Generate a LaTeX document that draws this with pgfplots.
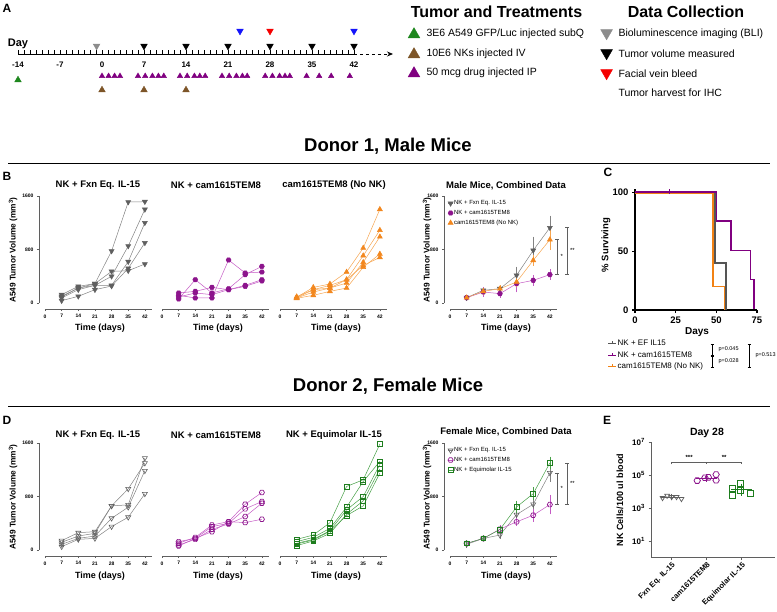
\documentclass[border=0pt]{standalone}
\usepackage{fontspec}
\setmainfont{Liberation Sans}
\usepackage{pgfplots}
\pgfplotsset{compat=1.18}
\usetikzlibrary{arrows.meta}

\definecolor{gL}{RGB}{130,130,130}
\definecolor{gM}{RGB}{95,95,95}
\definecolor{pL}{RGB}{196,90,196}
\definecolor{pM}{RGB}{140,20,140}
\definecolor{oL}{RGB}{246,165,80}
\definecolor{oM}{RGB}{242,135,30}
\definecolor{grL}{RGB}{70,160,70}
\definecolor{grM}{RGB}{30,125,30}
\definecolor{cG}{RGB}{85,85,85}
\definecolor{cP}{RGB}{128,0,128}
\definecolor{cO}{RGB}{242,130,20}
\definecolor{aGreen}{RGB}{30,135,30}
\definecolor{aBrown}{RGB}{125,85,40}
\definecolor{aPurple}{RGB}{128,0,128}
\definecolor{aGray}{RGB}{140,140,140}
\definecolor{aRed}{RGB}{245,0,0}
\definecolor{aBlue}{RGB}{20,20,250}

\newcommand{\fs}[1]{\fontsize{#1}{#1}\selectfont}

\pgfdeclareplotmark{hexagon}{%
  \pgfpathmoveto{\pgfpointpolar{0}{\pgfplotmarksize}}%
  \pgfpathlineto{\pgfpointpolar{60}{\pgfplotmarksize}}%
  \pgfpathlineto{\pgfpointpolar{120}{\pgfplotmarksize}}%
  \pgfpathlineto{\pgfpointpolar{180}{\pgfplotmarksize}}%
  \pgfpathlineto{\pgfpointpolar{240}{\pgfplotmarksize}}%
  \pgfpathlineto{\pgfpointpolar{300}{\pgfplotmarksize}}%
  \pgfpathclose\pgfusepathqstroke}
\pgfdeclareplotmark{hexagon*}{%
  \pgfpathmoveto{\pgfpointpolar{0}{\pgfplotmarksize}}%
  \pgfpathlineto{\pgfpointpolar{60}{\pgfplotmarksize}}%
  \pgfpathlineto{\pgfpointpolar{120}{\pgfplotmarksize}}%
  \pgfpathlineto{\pgfpointpolar{180}{\pgfplotmarksize}}%
  \pgfpathlineto{\pgfpointpolar{240}{\pgfplotmarksize}}%
  \pgfpathlineto{\pgfpointpolar{300}{\pgfplotmarksize}}%
  \pgfpathclose\pgfusepathqfillstroke}

\pgfplotsset{
  tv/.style={scale only axis, width=107pt, height=107pt, xmin=0, xmax=45, ymin=0, ymax=1600,
    xtick={0,7,14,21,28,35,42}, ytick={0,800,1600},
    axis x line=bottom, axis y line=left, axis line style={-, draw=gM, line width=0.6pt},
    axis x line shift=6pt, axis y line shift=6pt,
    tick align=outside, major tick length=2pt, tick style={draw=gM, line width=0.5pt},
    tick label style={font=\bfseries\fs{5}},
    /pgf/number format/assume math mode=true, /pgf/number format/1000 sep={},
    clip=false, anchor=south west},
  noy/.style={axis y line=none, ytick=\empty},
  gS/.style={gL, line width=0.5pt, mark=triangle*, mark size=2.9pt, mark options={rotate=180, fill=gM, draw=gM, solid}},
  gO/.style={gL, line width=0.5pt, mark=triangle, mark size=2.9pt, mark options={rotate=180, draw=gM, line width=0.6pt, solid}},
  pS/.style={pL, line width=0.5pt, mark=hexagon*, mark size=2.5pt, mark options={fill=pM, draw=pM, solid}},
  pO/.style={pL, line width=0.5pt, mark=hexagon, mark size=2.6pt, mark options={draw=pM, line width=0.7pt, solid}},
  oS/.style={oL, line width=0.5pt, mark=triangle*, mark size=2.9pt, mark options={fill=oM, draw=oM, solid}},
  grO/.style={grL, line width=0.5pt, mark=square, mark size=2.4pt, mark options={draw=grM, line width=0.7pt, solid}},
  eb/.style={error bars/.cd, y dir=both, y explicit, error bar style={#1, line width=0.5pt}, error mark options={#1, mark size=2pt, line width=0.5pt}},
  cl/.style={legend style={at={(-0.05,0.985)}, anchor=north west, draw=none, fill=none, font=\fs{6}, row sep=2.4pt, nodes={inner sep=0.8pt}},
    legend cell align=left,
    legend image code/.code={\draw[mark repeat=2, mark phase=2, ##1] plot coordinates {(0pt,0pt) (2.5pt,0pt) (5pt,0pt)};}},
}

\begin{document}
\begin{tikzpicture}
\path[use as bounding box] (0,0) rectangle (777pt,-611pt);

% ---------------- Panel A ----------------
\node[font=\bfseries\fs{12}] at (7pt,-8pt) {A};
\node[font=\bfseries\fs{11}] at (18pt,-44pt) {Day};
\begin{axis}[at={(18pt,-54pt)}, anchor=south west, scale only axis, width=336pt, height=40pt,
  xmin=-14, xmax=42, ymin=0, ymax=40, axis x line=bottom, axis y line=none,
  axis line style={-, line width=0.8pt}, xtick={-14,-7,0,7,14,21,28,35,42}, minor x tick num=6,
  tick align=inside, major tick length=4pt, minor tick length=4pt, tick style={line width=0.6pt, black},
  xticklabel style={font=\bfseries\fs{8}, yshift=-4pt}, /pgf/number format/assume math mode=true, clip=false]
\addplot[only marks, mark=triangle*, mark size=3.8pt, aGreen] coordinates {(-14,-26)};
\addplot[only marks, mark=triangle*, mark size=3.8pt, aBrown] coordinates {(0,-36) (7,-36) (14,-36)};
\addplot[only marks, mark=triangle*, mark size=3.1pt, aPurple] coordinates {
 (0,-22) (1.1,-22) (2.1,-22) (3,-22)
 (6,-22) (7.2,-22) (8.4,-22) (9.4,-22) (10.3,-22)
 (13,-22) (14.2,-22) (15.4,-22) (16.3,-22) (17.2,-22)
 (20,-22) (21.2,-22) (22.4,-22) (23.4,-22) (24.2,-22)
 (27.2,-22) (28.4,-22) (29.6,-22) (30.5,-22) (31.3,-22)
 (34.1,-22) (36.2,-22) (38.2,-22) (41.3,-22)};
\addplot[only marks, mark=triangle*, mark size=3.9pt, mark options={rotate=180}, aGray] coordinates {(-0.9,8)};
\addplot[only marks, mark=triangle*, mark size=3.9pt, mark options={rotate=180}, black] coordinates {(7,8) (14,8) (21,8) (28,8) (35,8) (42,8)};
\addplot[only marks, mark=triangle*, mark size=3.9pt, mark options={rotate=180}, aBlue] coordinates {(23,23) (42,23)};
\addplot[only marks, mark=triangle*, mark size=3.9pt, mark options={rotate=180}, aRed] coordinates {(28,23)};
% legend markers
\addplot[only marks, mark=triangle*, mark size=6.8pt, aGreen] coordinates {(52,19.5)};
\addplot[only marks, mark=triangle*, mark size=6.8pt, aBrown] coordinates {(52,-0.5)};
\addplot[only marks, mark=triangle*, mark size=6.8pt, aPurple] coordinates {(52,-19.5)};
\addplot[only marks, mark=triangle*, mark size=6.8pt, mark options={rotate=180}, aGray] coordinates {(84.1,21)};
\addplot[only marks, mark=triangle*, mark size=6.8pt, mark options={rotate=180}, black] coordinates {(84.1,1)};
\addplot[only marks, mark=triangle*, mark size=6.8pt, mark options={rotate=180}, aRed] coordinates {(84.1,-19)};
\draw[dashed, line width=0.8pt, -{Stealth[length=6pt,width=5pt]}] (axis cs:42,0) -- (axis cs:48.5,0);
\end{axis}
\node[font=\bfseries\fs{16}] at (496.5pt,-11.7pt) {Tumor and Treatments};
\node[font=\bfseries\fs{16}] at (686pt,-11.7pt) {Data Collection};
\node[font=\fs{10.5}, anchor=west] at (423pt,-33.3pt) {3E6 A549 GFP/Luc injected subQ};
\node[font=\fs{10.5}, anchor=west] at (423pt,-53.3pt) {10E6 NKs injected IV};
\node[font=\fs{10.5}, anchor=west] at (423pt,-72.7pt) {50 mcg drug injected IP};
\node[font=\fs{10.5}, anchor=west] at (615pt,-33.3pt) {Bioluminescence imaging (BLI)};
\node[font=\fs{10.5}, anchor=west] at (615pt,-53.3pt) {Tumor volume measured};
\node[font=\fs{10.5}, anchor=west] at (615pt,-73.3pt) {Facial vein bleed};
\node[font=\fs{10.5}, anchor=west] at (615pt,-92.7pt) {Tumor harvest for IHC};

% ---------------- separators ----------------
\node[font=\bfseries\fs{18.5}] at (388pt,-146pt) {Donor 1, Male Mice};
\draw[line width=0.8pt] (8pt,-163pt) -- (770pt,-163pt);
\node[font=\bfseries\fs{18.5}] at (388pt,-386pt) {Donor 2, Female Mice};
\draw[line width=0.8pt] (8pt,-406pt) -- (770pt,-406pt);

% ---------------- Panel B ----------------
\node[font=\bfseries\fs{12}] at (7pt,-176pt) {B};
\node[font=\bfseries\fs{9.5}] at (98pt,-185pt) {NK + Fxn Eq. IL-15};
\node[font=\bfseries\fs{9.5}] at (216pt,-185pt) {NK + cam1615TEM8};
\node[font=\bfseries\fs{9.5}] at (334pt,-185pt) {cam1615TEM8 (No NK)};
\node[font=\bfseries\fs{9.5}] at (506pt,-186pt) {Male Mice, Combined Data};
\node[rotate=90, font=\bfseries\fs{8.3}] at (13pt,-250pt) {A549 Tumor Volume (mm\textsuperscript{3})};
\node[rotate=90, font=\bfseries\fs{8.3}] at (427pt,-250pt) {A549 Tumor Volume (mm\textsuperscript{3})};
\foreach \xx in {100,218,336,506} {\node[font=\bfseries\fs{9}] at (\xx pt,-328pt) {Time (days)};}

\begin{axis}[tv, at={(45pt,-303pt)}]
\addplot[gS] coordinates {(7,125) (14,249) (21,289) (28,777) (35,1510) (42,1515)};
\addplot[gS] coordinates {(7,100) (14,224) (21,264) (28,399) (35,852) (42,1400)};
\addplot[gS] coordinates {(7,75) (14,199) (21,264) (28,264) (35,618) (42,1200)};
\addplot[gS] coordinates {(7,35) (14,100) (21,199) (28,254) (35,518) (42,900)};
\addplot[gS] coordinates {(7,90) (14,224) (21,289) (28,473) (35,483) (42,583)};
\end{axis}
\begin{axis}[tv, noy, at={(162pt,-303pt)}]
\addplot[pS] coordinates {(7,60) (14,349) (21,150) (28,214) (35,424) (42,548)};
\addplot[pS] coordinates {(7,115) (14,75) (21,75) (28,643) (35,449) (42,463)};
\addplot[pS] coordinates {(7,150) (14,174) (21,234) (28,199) (35,264) (42,349)};
\addplot[pS] coordinates {(7,90) (14,150) (21,125) (28,199) (35,249) (42,330)};
\end{axis}
\begin{axis}[tv, noy, at={(280pt,-303pt)}]
\addplot[oS] coordinates {(7,85) (14,234) (21,284) (28,463) (35,822) (42,1401)};
\addplot[oS] coordinates {(7,95) (14,199) (21,264) (28,349) (35,708) (42,1089)};
\addplot[oS] coordinates {(7,75) (14,164) (21,224) (28,299) (35,609) (42,990)};
\addplot[oS] coordinates {(7,70) (14,115) (21,174) (28,224) (35,535) (42,733)};
\addplot[oS] coordinates {(7,80) (14,199) (21,224) (28,349) (35,560) (42,683)};
\end{axis}
\begin{axis}[tv, cl, at={(450pt,-303pt)}]
\addplot[gS, eb=gL] coordinates {(7,80) +- (0,15) (14,190) +- (0,20) (21,214) +- (0,15) (28,414) +- (0,100) (35,787) +- (0,175) (42,1126) +- (0,150)};
\addlegendentry{NK + Fxn Eq. IL-15}
\addplot[pS, eb=pL] coordinates {(7,80) +- (0,15) (14,164) +- (0,40) (21,140) +- (0,35) (28,289) +- (0,100) (35,339) +- (0,50) (42,424) +- (0,50)};
\addlegendentry{NK + cam1615TEM8}
\addplot[oS, eb=oL] coordinates {(7,80) +- (0,10) (14,174) +- (0,25) (21,214) +- (0,20) (28,314) +- (0,45) (35,638) +- (0,50) (42,947) +- (0,125)};
\addlegendentry{cam1615TEM8 (No NK)}
\draw[gM, line width=0.6pt] (axis cs:44.2,947) -- (axis cs:45.8,947) (axis cs:45,947) -- (axis cs:45,424) (axis cs:44.2,424) -- (axis cs:45.8,424);
\draw[gM, line width=0.6pt] (axis cs:48.4,1126) -- (axis cs:50,1126) (axis cs:49.2,1126) -- (axis cs:49.2,424) (axis cs:48.4,424) -- (axis cs:50,424);
\node[font=\fs{6}] at (axis cs:47,690) {*};
\node[font=\fs{6}] at (axis cs:51.5,780) {**};
\end{axis}

% ---------------- Panel C ----------------
\node[font=\bfseries\fs{12}] at (608pt,-172pt) {C};
\node[rotate=90, font=\bfseries\fs{9.5}] at (606pt,-245pt) {\% Surviving};
\node[font=\bfseries\fs{10}] at (697pt,-332pt) {Days};
\begin{axis}[at={(635pt,-310pt)}, anchor=south west, scale only axis, width=122pt, height=120.8pt,
  xmin=0, xmax=75, ymin=0, ymax=103, xtick={0,25,50,75}, ytick={0,50,100},
  axis lines=left, axis line style={-, line width=1.2pt}, tick align=outside, major tick length=3pt,
  tick style={line width=1.2pt, black}, tick label style={font=\bfseries\fs{9.5}},
  /pgf/number format/assume math mode=true, clip=false,
  legend style={at={(-0.25,-0.225)}, anchor=north west, draw=none, fill=none, font=\fs{8}, row sep=2.2pt, nodes={inner sep=1pt}},
  legend cell align=left,
  legend image code/.code={\draw[#1, line width=1pt] (0pt,0pt) -- (8pt,0pt); \draw[#1, line width=1pt] (4pt,0pt) -- (4pt,2.5pt);}]
\addplot[const plot, cG, line width=1.6pt, forget plot] coordinates {(0,100) (49,40) (56,0)};
\addplot[const plot, cO, line width=1.6pt, forget plot] coordinates {(0,100) (48,20) (55,0)};
\addplot[const plot, cP, line width=1.6pt, forget plot, yshift=1pt] coordinates {(0,100) (50,75) (59,50) (71,25) (73,0)};
\addplot[cP, only marks, mark=|, mark size=2.5pt, forget plot, yshift=1pt] coordinates {(21,100)};
\addlegendimage{cG}
\addlegendentry{NK + EF IL15}
\addlegendimage{cP}
\addlegendentry{NK + cam1615TEM8}
\addlegendimage{cO}
\addlegendentry{cam1615TEM8 (No NK)}
\end{axis}
\draw[line width=0.5pt] (710.5pt,-344pt) -- (713.5pt,-344pt) (712pt,-344pt) -- (712pt,-355pt) (710.5pt,-355pt) -- (713.5pt,-355pt);
\draw[line width=0.5pt] (710.5pt,-356.5pt) -- (713.5pt,-356.5pt) (712pt,-356.5pt) -- (712pt,-367pt) (710.5pt,-367pt) -- (713.5pt,-367pt);
\draw[line width=0.5pt] (747.5pt,-344pt) -- (750.5pt,-344pt) (749pt,-344pt) -- (749pt,-367pt) (747.5pt,-367pt) -- (750.5pt,-367pt);
\node[font=\fs{5.5}, anchor=west] at (715pt,-349.5pt) {p=0.045};
\node[font=\fs{5.5}, anchor=west] at (715pt,-361.5pt) {p=0.028};
\node[font=\fs{5.5}, anchor=west] at (752pt,-355.5pt) {p=0.513};

% ---------------- Panel D ----------------
\node[font=\bfseries\fs{12}] at (7pt,-420pt) {D};
\node[font=\bfseries\fs{9.5}] at (98pt,-435pt) {NK + Fxn Eq. IL-15};
\node[font=\bfseries\fs{9.5}] at (216pt,-435pt) {NK + cam1615TEM8};
\node[font=\bfseries\fs{9.5}] at (334pt,-435pt) {NK + Equimolar IL-15};
\node[font=\bfseries\fs{9.5}] at (506pt,-432pt) {Female Mice, Combined Data};
\node[rotate=90, font=\bfseries\fs{8.3}] at (13pt,-497pt) {A549 Tumor Volume (mm\textsuperscript{3})};
\node[rotate=90, font=\bfseries\fs{8.3}] at (427pt,-497pt) {A549 Tumor Volume (mm\textsuperscript{3})};
\foreach \xx in {100,218,336,506} {\node[font=\bfseries\fs{9}] at (\xx pt,-576pt) {Time (days)};}

\begin{axis}[tv, at={(45pt,-550pt)}]
\addplot[gO] coordinates {(7,140) (14,259) (21,274) (28,660) (35,915) (42,1300)};
\addplot[gO] coordinates {(7,115) (14,209) (21,249) (28,660) (35,675) (42,1375)};
\addplot[gO] coordinates {(7,85) (14,174) (21,209) (28,475) (35,640) (42,1185)};
\addplot[gO] coordinates {(7,50) (14,159) (21,174) (28,350) (35,490) (42,840)};
\end{axis}
\begin{axis}[tv, noy, at={(162pt,-550pt)}]
\addplot[pO] coordinates {(7,100) (14,189) (21,374) (28,424) (35,685) (42,860)};
\addplot[pO] coordinates {(7,125) (14,174) (21,349) (28,399) (35,615) (42,725)};
\addplot[pO] coordinates {(7,75) (14,159) (21,309) (28,389) (35,500) (42,700)};
\addplot[pO] coordinates {(7,60) (14,174) (21,274) (28,424) (35,410) (42,460)};
\end{axis}
\begin{axis}[tv, noy, at={(280pt,-550pt)}]
\addplot[grO] coordinates {(7,159) (14,224) (21,408) (28,950) (35,1050) (42,1585)};
\addplot[grO] coordinates {(7,125) (14,189) (21,324) (28,640) (35,1025) (42,1325)};
\addplot[grO] coordinates {(7,100) (14,159) (21,289) (28,600) (35,800) (42,1280)};
\addplot[grO] coordinates {(7,65) (14,135) (21,249) (28,535) (35,735) (42,1210)};
\addplot[grO] coordinates {(7,90) (14,150) (21,280) (28,515) (35,660) (42,1150)};
\end{axis}
\begin{axis}[tv, cl, at={(450pt,-550pt)}]
\addplot[gO, eb=gL] coordinates {(7,85) +- (0,20) (14,173) +- (0,15) (21,223) +- (0,25) (28,530) +- (0,60) (35,684) +- (0,75) (42,1154) +- (0,100)};
\addlegendentry{NK + Fxn Eq. IL-15}
\addplot[pO, eb=pL] coordinates {(7,99) +- (0,15) (14,173) +- (0,15) (21,312) +- (0,25) (28,421) +- (0,25) (35,520) +- (0,65) (42,679) +- (0,115)};
\addlegendentry{NK + cam1615TEM8}
\addplot[grO, eb=grL] coordinates {(7,99) +- (0,15) (14,173) +- (0,15) (21,307) +- (0,25) (28,644) +- (0,65) (35,842) +- (0,65) (42,1303) +- (0,65)};
\addlegendentry{NK + Equimolar IL-15}
\draw[gM, line width=0.6pt] (axis cs:44.2,1154) -- (axis cs:45.8,1154) (axis cs:45,1154) -- (axis cs:45,679) (axis cs:44.2,679) -- (axis cs:45.8,679);
\draw[gM, line width=0.6pt] (axis cs:48.4,1303) -- (axis cs:50,1303) (axis cs:49.2,1303) -- (axis cs:49.2,679) (axis cs:48.4,679) -- (axis cs:50,679);
\node[font=\fs{6}] at (axis cs:47,920) {*};
\node[font=\fs{6}] at (axis cs:51.5,1000) {**};
\end{axis}

% ---------------- Panel E ----------------
\node[font=\bfseries\fs{12}] at (607pt,-420pt) {E};
\node[font=\bfseries\fs{10.5}] at (707pt,-433pt) {Day 28};
\node[rotate=90, font=\bfseries\fs{9}] at (620pt,-500pt) {NK Cells/100 ul blood};
\begin{axis}[at={(651pt,-557.5pt)}, anchor=south west, scale only axis, width=124.25pt, height=115.5pt,
  xmin=-0.59, xmax=2.96, ymode=log, ymin=1, ymax=1e7, ytick={10,1000,100000,10000000},
  yticklabels={\textbf{10}\textsuperscript{\textbf{1}}, \textbf{10}\textsuperscript{\textbf{3}}, \textbf{10}\textsuperscript{\textbf{5}}, \textbf{10}\textsuperscript{\textbf{7}}},
  yminorticks=false, xtick={0,1,2}, xticklabels={Fxn Eq. IL-15, cam1615TEM8, Equimolar IL-15},
  xticklabel style={rotate=45, anchor=north east, font=\bfseries\fs{7.6}, inner sep=1pt},
  yticklabel style={font=\bfseries\fs{8}},
  axis lines=left, axis line style={-, line width=0.8pt, draw=gM}, tick align=outside, major tick length=2.5pt,
  tick style={line width=0.8pt, draw=gM}, clip=false]
\addplot[only marks, mark=triangle, mark size=2.8pt, mark options={rotate=180, line width=0.7pt}, gM] coordinates {(-0.26,4070) (-0.13,5620) (0,4680) (0.14,4680) (0.28,3550)};
\addplot[gM, line width=0.6pt] coordinates {(-0.3,4500) (0.3,4500)};
\addplot[gM, mark=none, error bars/.cd, y dir=both, y explicit, error bar style={line width=0.6pt}, error mark options={mark size=2pt, line width=0.6pt}] coordinates {(0,4500) += (0,900) -= (0,700)};
\addplot[only marks, mark=hexagon, mark size=3.2pt, mark options={line width=0.8pt}, pM] coordinates {(0.73,45700) (0.95,68000) (1.05,72000) (1.27,107000) (1.27,48000)};
\addplot[pM, line width=0.6pt] coordinates {(0.7,67600) (1.3,67600)};
\addplot[pM, mark=none, error bars/.cd, y dir=both, y explicit, error bar style={line width=0.6pt}, error mark options={mark size=2pt, line width=0.6pt}] coordinates {(1,67600) += (0,20000) -= (0,15000)};
\addplot[only marks, mark=square, mark size=3pt, mark options={line width=0.8pt}, grM] coordinates {(1.74,14500) (1.74,5600) (1.97,33000) (1.97,11700) (2.24,8100)};
\addplot[grM, line width=0.6pt] coordinates {(1.7,13200) (2.3,13200)};
\addplot[grM, mark=none, error bars/.cd, y dir=both, y explicit, error bar style={line width=0.6pt}, error mark options={mark size=2pt, line width=0.6pt}] coordinates {(2,13200) += (0,9800) -= (0,5800)};
\draw[gM, line width=0.6pt] (axis cs:0,4.4e5) -- (axis cs:0,5.5e5) -- (axis cs:1,5.5e5) -- (axis cs:1,4.4e5);
\draw[gM, line width=0.6pt] (axis cs:1,5.5e5) -- (axis cs:2,5.5e5) -- (axis cs:2,4.4e5);
\node[font=\bfseries\fs{6}, above] at (axis cs:0.5,5.5e5) {***};
\node[font=\bfseries\fs{6}, above] at (axis cs:1.5,5.5e5) {**};
\end{axis}
\end{tikzpicture}
\end{document}
